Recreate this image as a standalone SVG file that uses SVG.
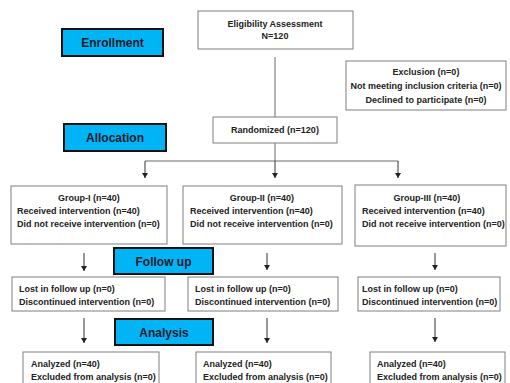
<svg xmlns="http://www.w3.org/2000/svg" width="510" height="383" viewBox="0 0 510 383">
<defs>
<marker id="ah" markerWidth="6" markerHeight="6" refX="5" refY="3" orient="auto" markerUnits="userSpaceOnUse">
<path d="M0,0 L5,3 L0,6 Z" fill="#222"/>
</marker>
<style>
.box{fill:#fff;stroke:#7f7f7f;stroke-width:1}
.stage{fill:#00b4f5;stroke:#111;stroke-width:2}
.t{font-family:"Liberation Sans",Arial,sans-serif;font-weight:bold;font-size:9px;fill:#222}
.c{text-anchor:middle}
.st{font-family:"Liberation Sans",Arial,sans-serif;font-weight:bold;font-size:12px;fill:#1a1a2a;text-anchor:middle}
.ln{stroke:#6a6a6a;stroke-width:1;fill:none}
.ar{stroke:#333;stroke-width:1;fill:none;marker-end:url(#ah)}
</style>
</defs>
<rect width="510" height="383" fill="#fff"/>
<g id="connectors">
<line class="ln" x1="275" y1="57" x2="275" y2="117"/>
<line class="ln" x1="275" y1="143" x2="275" y2="161"/>
<line class="ln" x1="145" y1="161" x2="398" y2="161"/>
<line class="ar" x1="145" y1="161" x2="145" y2="178"/>
<line class="ar" x1="275" y1="161" x2="275" y2="178"/>
<line class="ar" x1="398" y1="161" x2="398" y2="178"/>
<line class="ar" x1="84" y1="253" x2="84" y2="271"/>
<line class="ar" x1="267" y1="253" x2="267" y2="270"/>
<line class="ar" x1="435" y1="253" x2="435" y2="270"/>
<line class="ar" x1="84" y1="318" x2="84" y2="343"/>
<line class="ar" x1="267" y1="318" x2="267" y2="343"/>
<line class="ar" x1="435" y1="318" x2="435" y2="342"/>
</g>
<g id="enrollment"><rect class="stage" x="62" y="29" width="101" height="27"/><text class="st" x="112.5" y="47">Enrollment</text></g>
<g id="allocation"><rect class="stage" x="64" y="124" width="102" height="27"/><text class="st" x="115" y="142">Allocation</text></g>
<g id="followup"><rect class="stage" x="114" y="248" width="99" height="26"/><text class="st" x="163.5" y="265.5">Follow up</text></g>
<g id="analysis"><rect class="stage" x="115" y="319" width="98" height="26"/><text class="st" x="164" y="336.5">Analysis</text></g>
<g id="eligibility"><rect class="box" x="198" y="11" width="155" height="38"/><text class="t c" x="275" y="27">Eligibility Assessment</text><text class="t c" x="275" y="39">N=120</text></g>
<g id="exclusion"><rect class="box" x="346" y="61" width="160" height="49"/><text class="t c" x="426" y="75">Exclusion (n=0)</text><text class="t c" x="426" y="89">Not meeting inclusion criteria (n=0)</text><text class="t c" x="426" y="103">Declined to participate (n=0)</text></g>
<g id="randomized"><rect class="box" x="213" y="117" width="124" height="26"/><text class="t c" x="275" y="133">Randomized (n=120)</text></g>
<g id="group1"><rect class="box" x="11" y="186" width="156" height="58"/><text class="t c" x="89" y="201">Group-I (n=40)</text><text class="t" x="17" y="214">Received intervention (n=40)</text><text class="t" x="17" y="227">Did not receive intervention (n=0)</text></g>
<g id="group2"><rect class="box" x="183" y="186" width="159" height="58"/><text class="t c" x="262" y="201">Group-II (n=40)</text><text class="t" x="190" y="214">Received intervention (n=40)</text><text class="t" x="190" y="227">Did not receive intervention (n=0)</text></g>
<g id="group3"><rect class="box" x="355" y="185" width="151" height="61"/><text class="t c" x="427" y="201">Group-III (n=40)</text><text class="t" x="362" y="214">Received intervention (n=40)</text><text class="t" x="362" y="227">Did not receive intervention (n=0)</text></g>
<g id="follow1"><rect class="box" x="12" y="277" width="153" height="34"/><text class="t" x="19" y="292">Lost in follow up (n=0)</text><text class="t" x="19" y="305">Discontinued intervention (n=0)</text></g>
<g id="follow2"><rect class="box" x="188" y="277" width="150" height="34"/><text class="t" x="195" y="292">Lost in follow up (n=0)</text><text class="t" x="195" y="305">Discontinued intervention (n=0)</text></g>
<g id="follow3"><rect class="box" x="358" y="277" width="142" height="34"/><text class="t" x="362" y="292">Lost in follow up (n=0)</text><text class="t" x="362" y="305">Discontinued intervention (n=0)</text></g>
<g id="analysis1"><rect class="box" x="23" y="352" width="136" height="40"/><text class="t" x="31" y="367">Analyzed (n=40)</text><text class="t" x="31" y="380">Excluded from analysis (n=0)</text></g>
<g id="analysis2"><rect class="box" x="196" y="352" width="135" height="40"/><text class="t" x="203" y="367">Analyzed (n=40)</text><text class="t" x="203" y="380">Excluded from analysis (n=0)</text></g>
<g id="analysis3"><rect class="box" x="370" y="352" width="135" height="40"/><text class="t" x="377" y="367">Analyzed (n=40)</text><text class="t" x="377" y="380">Excluded from analysis (n=0)</text></g>
</svg>
